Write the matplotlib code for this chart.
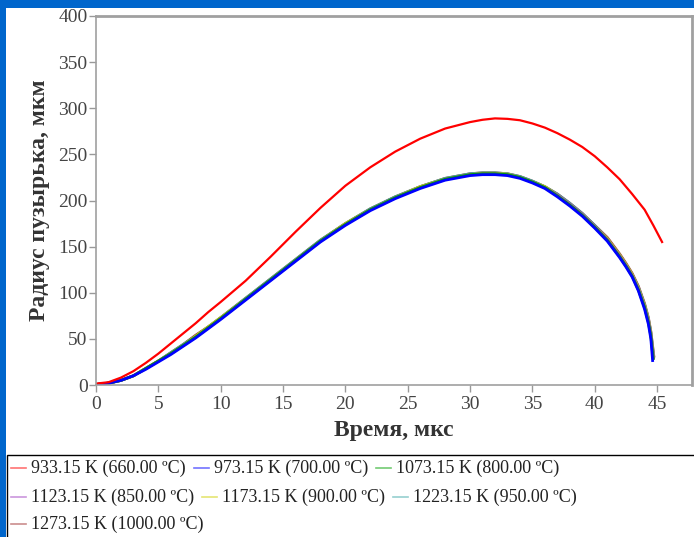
import matplotlib
matplotlib.use('Agg')
import matplotlib.pyplot as plt
from matplotlib.patches import Rectangle
from matplotlib.lines import Line2D
from matplotlib.transforms import IdentityTransform

plt.rcParams['font.family'] = ['Liberation Serif', 'DejaVu Serif']

# 933.15 K series
t_red = [0, 1, 2, 3, 4, 5, 6, 7, 8, 9, 10, 12, 14, 16, 18, 20, 22, 24, 26, 28,
         30, 31, 32, 33, 34, 35, 36, 37, 38, 39, 40, 41, 42, 43, 44, 44.7, 45.4]
r_red = [1.5, 3, 8, 15, 24, 34, 45, 56, 67, 79, 90, 113, 139, 166, 192, 216, 236,
         253, 267, 278, 285, 287.5, 289, 288.5, 287, 283.5, 279, 273, 266, 258, 248,
         236, 223, 207, 190, 173, 155]

# the higher-temperature series share one time grid, each with its own end point
t_grid = [0, 1, 2, 3, 4, 5, 6, 7, 8, 9, 10, 12, 14, 16, 18, 20, 22, 24, 26, 28,
          30, 31, 32, 33, 34, 35, 36, 37, 38, 39, 40, 41, 42, 42.5, 43, 43.5, 44,
          44.3, 44.5]
r_blue = [0.5, 2, 5, 10, 17, 25, 33, 42, 51, 61, 71, 92, 113, 134, 155, 173, 189,
          202, 213, 222, 227, 228, 228, 227, 224, 219, 213, 204, 194, 183, 170, 156,
          138, 128, 117, 102, 82, 66, 50]
r_green = [0.5, 2, 5, 10, 18, 26, 34, 43, 52, 62, 72, 93, 114, 135, 156, 174, 190,
           203, 214, 223, 228, 229, 229, 228, 225, 220, 214, 205, 195, 184, 171, 157,
           139, 129, 118, 103, 84, 68, 53]
r_purple = [0.5, 2, 5, 10, 18, 26, 34, 43, 52, 62, 72, 93, 114, 135, 156, 174, 190,
            203, 214, 223, 228, 229, 229, 228, 225, 220, 214, 206, 196, 185, 172, 158,
            140, 130, 119, 104, 85, 70, 55]
r_yellow = [0.5, 2, 5, 10, 18, 26, 34, 43, 53, 63, 73, 93, 114, 135, 156, 175, 190,
            203, 215, 223, 228, 229.5, 229.5, 228.5, 225, 220, 215, 206, 196, 185, 172,
            159, 141, 131, 120, 105, 86, 71, 56]
r_cyan = [0.5, 2, 5, 10, 18, 26, 35, 44, 53, 63, 73, 94, 115, 136, 157, 175, 191,
          204, 215, 224, 229, 230, 230, 229, 226, 221, 215, 207, 197, 186, 173, 159,
          141, 131, 120, 106, 87, 72, 57]
r_brown = [0.5, 2, 5, 10, 18, 26, 35, 44, 54, 63, 73, 94, 115, 136, 157, 175, 191,
           204, 215, 224, 229, 230, 230, 229, 226, 221, 215, 207, 197, 186, 173, 160,
           142, 132, 121, 107, 88, 73, 58]
t_ends = [44.65, 44.7, 44.72, 44.72, 44.74, 44.75]
r_ends = [25, 27, 28, 28, 29, 30]

labels = ['933.15 K (660.00 ºC)', '973.15 K (700.00 ºC)', '1073.15 K (800.00 ºC)',
          '1123.15 K (850.00 ºC)', '1173.15 K (900.00 ºC)', '1223.15 K (950.00 ºC)',
          '1273.15 K (1000.00 ºC)']
colors = ['#ff0000', '#0000ff', '#00a000', '#a040c0', '#d0d000', '#40a8a8', '#a03030']

W, H = 694, 537
fig = plt.figure(figsize=(W / 100, H / 100), dpi=100)
fig.patch.set_facecolor('#0066cc')
fig.add_artist(Rectangle((6 / W, 0), 1, 1 - 8 / H, transform=fig.transFigure,
                         facecolor='white', edgecolor='none', zorder=-5))

ax = fig.add_axes([96 / W, 1 - 385 / H, (692 - 96) / W, (385 - 16) / H])

cluster = [r_blue, r_green, r_purple, r_yellow, r_cyan, r_brown]
# draw the close-lying curves first, blue on top of them
for i in range(len(cluster) - 1, -1, -1):
    ax.plot(t_grid + [t_ends[i]], cluster[i] + [r_ends[i]],
            color=colors[i + 1], lw=2.0, solid_capstyle='butt')
ax.plot(t_red, r_red, color=colors[0], lw=1.6)

ax.set_xlim(0, 47.8)
ax.set_ylim(0, 400)
ax.set_xticks(range(0, 50, 5))
ax.set_yticks(range(0, 450, 50))
ax.tick_params(axis='both', colors='#999999', labelcolor='#444444',
               labelsize=14, length=5, width=1)
ax.tick_params(axis='y', pad=1)
ax.tick_params(axis='x', pad=3)
for side in ['left', 'bottom', 'top']:
    ax.spines[side].set_color('#a0a0a0')
    ax.spines[side].set_linewidth(1.2)
ax.spines['right'].set_color('#a0a0a0')
ax.spines['right'].set_linewidth(2)
ax.spines['top'].set_linewidth(2)

ax.set_xlabel('Время, мкс', fontsize=17, fontweight='bold', color='#333333',
              labelpad=5)
ax.set_ylabel('Радиус пузырька, мкм', fontsize=17, fontweight='bold',
              color='#333333', labelpad=6)

# legend box under the chart, entries flowed left to right
fig.add_artist(Rectangle((7, -5), 700, H - 455 + 5, transform=IdentityTransform(),
                         facecolor='white', edgecolor='black', lw=1, zorder=1))
fig.canvas.draw()
renderer = fig.canvas.get_renderer()
rows = [[0, 1, 2], [3, 4, 5], [6]]
row_y = [468, 497, 524]
for row, yy in zip(rows, row_y):
    x = 11
    y = H - yy
    for k in row:
        fig.add_artist(Line2D([x, x + 15], [y, y], color=colors[k], lw=1.2,
                              alpha=0.55, transform=IdentityTransform(), zorder=2))
        txt = fig.text(x + 20, y, labels[k], transform=IdentityTransform(),
                       fontsize=13, color='#222222', va='center', ha='left',
                       zorder=2)
        w = txt.get_window_extent(renderer).width
        x = x + 20 + w + 8

fig.savefig('out.png', dpi=100, facecolor=fig.get_facecolor())
